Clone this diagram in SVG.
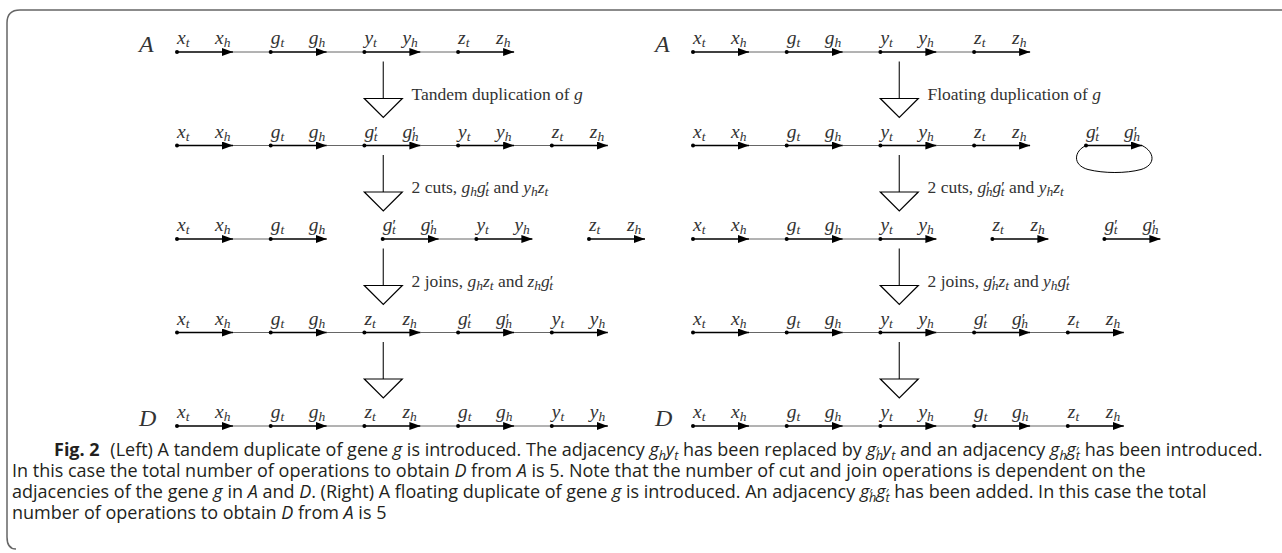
<svg xmlns="http://www.w3.org/2000/svg" width="1282" height="553" viewBox="0 0 1282 553">
<style>
.gl{stroke:#000;stroke-width:1.6;marker-end:url(#ah)}
.adj{stroke:#555;stroke-width:0.9}
.dt{fill:#000}
.m{font-family:"Liberation Serif",serif;font-style:italic;font-size:19.5px;fill:#333}
.s{font-size:13.5px}
.p{font-size:16px;font-style:normal}
.big{font-family:"Liberation Serif",serif;font-style:italic;font-size:24px;fill:#333}
.lab{font-family:"Liberation Serif",serif;font-size:17.5px;fill:#333}
.i{font-style:italic}
.tri{fill:#fff;stroke:#000;stroke-width:1.2}
.vl{stroke:#333;stroke-width:1.3}
.cap{font-family:"Open Sans","Noto Sans",sans-serif;font-size:18px;fill:#231f20}
.cb{font-weight:bold}
.cs{font-size:12.5px}
.frame{fill:none;stroke:#666;stroke-width:1.5}
</style>
<defs>
<marker id="ah" markerUnits="userSpaceOnUse" markerWidth="11" markerHeight="8" refX="11" refY="4" orient="auto"><path d="M0,0 L11,4 L0,8 z" fill="#000"/></marker>
</defs>
<path class="frame" d="M1282,10 H20 Q7,10 7,23 V537 Q7,549 16,549"/>

<g id="labels-AD">
<text class="big" x="139" y="52">A</text>
<text class="big" x="655" y="52">A</text>
<text class="big" x="139" y="426">D</text>
<text class="big" x="655" y="426">D</text>
</g>

<!-- LEFT ROW 1 -->
<g id="L1">
<line class="adj" x1="233" y1="52" x2="270.7" y2="52"/><line class="adj" x1="326.7" y1="52" x2="364.4" y2="52"/><line class="adj" x1="420.4" y1="52" x2="458.1" y2="52"/>
<line class="gl" x1="177" y1="52" x2="233" y2="52"/><line class="gl" x1="270.7" y1="52" x2="326.7" y2="52"/><line class="gl" x1="364.4" y1="52" x2="420.4" y2="52"/><line class="gl" x1="458.1" y1="52" x2="514.1" y2="52"/>
<circle class="dt" cx="177" cy="52" r="2"/><circle class="dt" cx="270.7" cy="52" r="2"/><circle class="dt" cx="364.4" cy="52" r="2"/><circle class="dt" cx="458.1" cy="52" r="2"/>
<text class="m" x="177" y="44">x<tspan class="s" dy="3">t</tspan></text><text class="m" x="215" y="44">x<tspan class="s" dy="3">h</tspan></text>
<text class="m" x="270.7" y="44">g<tspan class="s" dy="3">t</tspan></text><text class="m" x="308.7" y="44">g<tspan class="s" dy="3">h</tspan></text>
<text class="m" x="364.4" y="44">y<tspan class="s" dy="3">t</tspan></text><text class="m" x="402.4" y="44">y<tspan class="s" dy="3">h</tspan></text>
<text class="m" x="458.1" y="44">z<tspan class="s" dy="3">t</tspan></text><text class="m" x="496.1" y="44">z<tspan class="s" dy="3">h</tspan></text>
</g>

<!-- LEFT ROW 2 -->
<g id="L2">
<line class="adj" x1="233" y1="145.5" x2="270.7" y2="145.5"/><line class="adj" x1="326.7" y1="145.5" x2="364.4" y2="145.5"/><line class="adj" x1="420.4" y1="145.5" x2="458.1" y2="145.5"/><line class="adj" x1="514.1" y1="145.5" x2="551.8" y2="145.5"/>
<line class="gl" x1="177" y1="145.5" x2="233" y2="145.5"/><line class="gl" x1="270.7" y1="145.5" x2="326.7" y2="145.5"/><line class="gl" x1="364.4" y1="145.5" x2="420.4" y2="145.5"/><line class="gl" x1="458.1" y1="145.5" x2="514.1" y2="145.5"/><line class="gl" x1="551.8" y1="145.5" x2="607.8" y2="145.5"/>
<circle class="dt" cx="177" cy="145.5" r="2"/><circle class="dt" cx="270.7" cy="145.5" r="2"/><circle class="dt" cx="364.4" cy="145.5" r="2"/><circle class="dt" cx="458.1" cy="145.5" r="2"/><circle class="dt" cx="551.8" cy="145.5" r="2"/>
<text class="m" x="177" y="137.5">x<tspan class="s" dy="3">t</tspan></text><text class="m" x="215" y="137.5">x<tspan class="s" dy="3">h</tspan></text>
<text class="m" x="270.7" y="137.5">g<tspan class="s" dy="3">t</tspan></text><text class="m" x="308.7" y="137.5">g<tspan class="s" dy="3">h</tspan></text>
<text class="m" x="364.4" y="137.5">g<tspan class="p">′</tspan><tspan class="s" dx="-4" dy="3">t</tspan></text><text class="m" x="402.4" y="137.5">g<tspan class="p">′</tspan><tspan class="s" dx="-4" dy="3">h</tspan></text>
<text class="m" x="458.1" y="137.5">y<tspan class="s" dy="3">t</tspan></text><text class="m" x="496.1" y="137.5">y<tspan class="s" dy="3">h</tspan></text>
<text class="m" x="551.8" y="137.5">z<tspan class="s" dy="3">t</tspan></text><text class="m" x="589.8" y="137.5">z<tspan class="s" dy="3">h</tspan></text>
</g>

<!-- LEFT ROW 3 -->
<g id="L3">
<line class="adj" x1="233" y1="239" x2="270.7" y2="239"/><line class="adj" x1="438.7" y1="239" x2="476.4" y2="239"/>
<line class="gl" x1="177" y1="239" x2="233" y2="239"/><line class="gl" x1="270.7" y1="239" x2="326.7" y2="239"/><line class="gl" x1="382.7" y1="239" x2="438.7" y2="239"/><line class="gl" x1="476.4" y1="239" x2="532.4" y2="239"/><line class="gl" x1="589" y1="239" x2="645" y2="239"/>
<circle class="dt" cx="177" cy="239" r="2"/><circle class="dt" cx="270.7" cy="239" r="2"/><circle class="dt" cx="382.7" cy="239" r="2"/><circle class="dt" cx="476.4" cy="239" r="2"/><circle class="dt" cx="589" cy="239" r="2"/>
<text class="m" x="177" y="231">x<tspan class="s" dy="3">t</tspan></text><text class="m" x="215" y="231">x<tspan class="s" dy="3">h</tspan></text>
<text class="m" x="270.7" y="231">g<tspan class="s" dy="3">t</tspan></text><text class="m" x="308.7" y="231">g<tspan class="s" dy="3">h</tspan></text>
<text class="m" x="382.7" y="231">g<tspan class="p">′</tspan><tspan class="s" dx="-4" dy="3">t</tspan></text><text class="m" x="420.7" y="231">g<tspan class="p">′</tspan><tspan class="s" dx="-4" dy="3">h</tspan></text>
<text class="m" x="476.4" y="231">y<tspan class="s" dy="3">t</tspan></text><text class="m" x="514.4" y="231">y<tspan class="s" dy="3">h</tspan></text>
<text class="m" x="589" y="231">z<tspan class="s" dy="3">t</tspan></text><text class="m" x="627" y="231">z<tspan class="s" dy="3">h</tspan></text>
</g>

<!-- LEFT ROW 4 -->
<g id="L4">
<line class="adj" x1="233" y1="332.5" x2="270.7" y2="332.5"/><line class="adj" x1="326.7" y1="332.5" x2="364.4" y2="332.5"/><line class="adj" x1="420.4" y1="332.5" x2="458.1" y2="332.5"/><line class="adj" x1="514.1" y1="332.5" x2="551.8" y2="332.5"/>
<line class="gl" x1="177" y1="332.5" x2="233" y2="332.5"/><line class="gl" x1="270.7" y1="332.5" x2="326.7" y2="332.5"/><line class="gl" x1="364.4" y1="332.5" x2="420.4" y2="332.5"/><line class="gl" x1="458.1" y1="332.5" x2="514.1" y2="332.5"/><line class="gl" x1="551.8" y1="332.5" x2="607.8" y2="332.5"/>
<circle class="dt" cx="177" cy="332.5" r="2"/><circle class="dt" cx="270.7" cy="332.5" r="2"/><circle class="dt" cx="364.4" cy="332.5" r="2"/><circle class="dt" cx="458.1" cy="332.5" r="2"/><circle class="dt" cx="551.8" cy="332.5" r="2"/>
<text class="m" x="177" y="324.5">x<tspan class="s" dy="3">t</tspan></text><text class="m" x="215" y="324.5">x<tspan class="s" dy="3">h</tspan></text>
<text class="m" x="270.7" y="324.5">g<tspan class="s" dy="3">t</tspan></text><text class="m" x="308.7" y="324.5">g<tspan class="s" dy="3">h</tspan></text>
<text class="m" x="364.4" y="324.5">z<tspan class="s" dy="3">t</tspan></text><text class="m" x="402.4" y="324.5">z<tspan class="s" dy="3">h</tspan></text>
<text class="m" x="458.1" y="324.5">g<tspan class="p">′</tspan><tspan class="s" dx="-4" dy="3">t</tspan></text><text class="m" x="496.1" y="324.5">g<tspan class="p">′</tspan><tspan class="s" dx="-4" dy="3">h</tspan></text>
<text class="m" x="551.8" y="324.5">y<tspan class="s" dy="3">t</tspan></text><text class="m" x="589.8" y="324.5">y<tspan class="s" dy="3">h</tspan></text>
</g>

<!-- LEFT ROW 5 (D) -->
<g id="L5">
<line class="adj" x1="233" y1="426" x2="270.7" y2="426"/><line class="adj" x1="326.7" y1="426" x2="364.4" y2="426"/><line class="adj" x1="420.4" y1="426" x2="458.1" y2="426"/><line class="adj" x1="514.1" y1="426" x2="551.8" y2="426"/>
<line class="gl" x1="177" y1="426" x2="233" y2="426"/><line class="gl" x1="270.7" y1="426" x2="326.7" y2="426"/><line class="gl" x1="364.4" y1="426" x2="420.4" y2="426"/><line class="gl" x1="458.1" y1="426" x2="514.1" y2="426"/><line class="gl" x1="551.8" y1="426" x2="607.8" y2="426"/>
<circle class="dt" cx="177" cy="426" r="2"/><circle class="dt" cx="270.7" cy="426" r="2"/><circle class="dt" cx="364.4" cy="426" r="2"/><circle class="dt" cx="458.1" cy="426" r="2"/><circle class="dt" cx="551.8" cy="426" r="2"/>
<text class="m" x="177" y="418">x<tspan class="s" dy="3">t</tspan></text><text class="m" x="215" y="418">x<tspan class="s" dy="3">h</tspan></text>
<text class="m" x="270.7" y="418">g<tspan class="s" dy="3">t</tspan></text><text class="m" x="308.7" y="418">g<tspan class="s" dy="3">h</tspan></text>
<text class="m" x="364.4" y="418">z<tspan class="s" dy="3">t</tspan></text><text class="m" x="402.4" y="418">z<tspan class="s" dy="3">h</tspan></text>
<text class="m" x="458.1" y="418">g<tspan class="s" dy="3">t</tspan></text><text class="m" x="496.1" y="418">g<tspan class="s" dy="3">h</tspan></text>
<text class="m" x="551.8" y="418">y<tspan class="s" dy="3">t</tspan></text><text class="m" x="589.8" y="418">y<tspan class="s" dy="3">h</tspan></text>
</g>

<!-- RIGHT ROW 1 -->
<g id="R1">
<line class="adj" x1="749" y1="52" x2="786.7" y2="52"/><line class="adj" x1="842.7" y1="52" x2="880.4" y2="52"/><line class="adj" x1="936.4" y1="52" x2="974.1" y2="52"/>
<line class="gl" x1="693" y1="52" x2="749" y2="52"/><line class="gl" x1="786.7" y1="52" x2="842.7" y2="52"/><line class="gl" x1="880.4" y1="52" x2="936.4" y2="52"/><line class="gl" x1="974.1" y1="52" x2="1030.1" y2="52"/>
<circle class="dt" cx="693" cy="52" r="2"/><circle class="dt" cx="786.7" cy="52" r="2"/><circle class="dt" cx="880.4" cy="52" r="2"/><circle class="dt" cx="974.1" cy="52" r="2"/>
<text class="m" x="693" y="44">x<tspan class="s" dy="3">t</tspan></text><text class="m" x="731" y="44">x<tspan class="s" dy="3">h</tspan></text>
<text class="m" x="786.7" y="44">g<tspan class="s" dy="3">t</tspan></text><text class="m" x="824.7" y="44">g<tspan class="s" dy="3">h</tspan></text>
<text class="m" x="880.4" y="44">y<tspan class="s" dy="3">t</tspan></text><text class="m" x="918.4" y="44">y<tspan class="s" dy="3">h</tspan></text>
<text class="m" x="974.1" y="44">z<tspan class="s" dy="3">t</tspan></text><text class="m" x="1012.1" y="44">z<tspan class="s" dy="3">h</tspan></text>
</g>

<!-- RIGHT ROW 2 -->
<g id="R2">
<line class="adj" x1="749" y1="145.5" x2="786.7" y2="145.5"/><line class="adj" x1="842.7" y1="145.5" x2="880.4" y2="145.5"/><line class="adj" x1="936.4" y1="145.5" x2="974.1" y2="145.5"/>
<path d="M1086,145.5 C1074,151 1072,165 1088,169.5 C1104,173.5 1126,173.5 1141,169.5 C1156,165 1155,152 1142,145.5" fill="none" stroke="#000" stroke-width="1"/>
<line class="gl" x1="693" y1="145.5" x2="749" y2="145.5"/><line class="gl" x1="786.7" y1="145.5" x2="842.7" y2="145.5"/><line class="gl" x1="880.4" y1="145.5" x2="936.4" y2="145.5"/><line class="gl" x1="974.1" y1="145.5" x2="1030.1" y2="145.5"/><line class="gl" x1="1086" y1="145.5" x2="1142" y2="145.5"/>
<circle class="dt" cx="693" cy="145.5" r="2"/><circle class="dt" cx="786.7" cy="145.5" r="2"/><circle class="dt" cx="880.4" cy="145.5" r="2"/><circle class="dt" cx="974.1" cy="145.5" r="2"/><circle class="dt" cx="1086" cy="145.5" r="2"/>
<text class="m" x="693" y="137.5">x<tspan class="s" dy="3">t</tspan></text><text class="m" x="731" y="137.5">x<tspan class="s" dy="3">h</tspan></text>
<text class="m" x="786.7" y="137.5">g<tspan class="s" dy="3">t</tspan></text><text class="m" x="824.7" y="137.5">g<tspan class="s" dy="3">h</tspan></text>
<text class="m" x="880.4" y="137.5">y<tspan class="s" dy="3">t</tspan></text><text class="m" x="918.4" y="137.5">y<tspan class="s" dy="3">h</tspan></text>
<text class="m" x="974.1" y="137.5">z<tspan class="s" dy="3">t</tspan></text><text class="m" x="1012.1" y="137.5">z<tspan class="s" dy="3">h</tspan></text>
<text class="m" x="1086" y="137.5">g<tspan class="p">′</tspan><tspan class="s" dx="-4" dy="3">t</tspan></text><text class="m" x="1124" y="137.5">g<tspan class="p">′</tspan><tspan class="s" dx="-4" dy="3">h</tspan></text>
</g>

<!-- RIGHT ROW 3 -->
<g id="R3">
<line class="adj" x1="749" y1="239" x2="786.7" y2="239"/><line class="adj" x1="842.7" y1="239" x2="880.4" y2="239"/>
<line class="gl" x1="693" y1="239" x2="749" y2="239"/><line class="gl" x1="786.7" y1="239" x2="842.7" y2="239"/><line class="gl" x1="880.4" y1="239" x2="936.4" y2="239"/><line class="gl" x1="992.4" y1="239" x2="1048.4" y2="239"/><line class="gl" x1="1104.4" y1="239" x2="1160.4" y2="239"/>
<circle class="dt" cx="693" cy="239" r="2"/><circle class="dt" cx="786.7" cy="239" r="2"/><circle class="dt" cx="880.4" cy="239" r="2"/><circle class="dt" cx="992.4" cy="239" r="2"/><circle class="dt" cx="1104.4" cy="239" r="2"/>
<text class="m" x="693" y="231">x<tspan class="s" dy="3">t</tspan></text><text class="m" x="731" y="231">x<tspan class="s" dy="3">h</tspan></text>
<text class="m" x="786.7" y="231">g<tspan class="s" dy="3">t</tspan></text><text class="m" x="824.7" y="231">g<tspan class="s" dy="3">h</tspan></text>
<text class="m" x="880.4" y="231">y<tspan class="s" dy="3">t</tspan></text><text class="m" x="918.4" y="231">y<tspan class="s" dy="3">h</tspan></text>
<text class="m" x="992.4" y="231">z<tspan class="s" dy="3">t</tspan></text><text class="m" x="1030.4" y="231">z<tspan class="s" dy="3">h</tspan></text>
<text class="m" x="1104.4" y="231">g<tspan class="p">′</tspan><tspan class="s" dx="-4" dy="3">t</tspan></text><text class="m" x="1142.4" y="231">g<tspan class="p">′</tspan><tspan class="s" dx="-4" dy="3">h</tspan></text>
</g>

<!-- RIGHT ROW 4 -->
<g id="R4">
<line class="adj" x1="749" y1="332.5" x2="786.7" y2="332.5"/><line class="adj" x1="842.7" y1="332.5" x2="880.4" y2="332.5"/><line class="adj" x1="936.4" y1="332.5" x2="974.1" y2="332.5"/><line class="adj" x1="1030.1" y1="332.5" x2="1067.8" y2="332.5"/>
<line class="gl" x1="693" y1="332.5" x2="749" y2="332.5"/><line class="gl" x1="786.7" y1="332.5" x2="842.7" y2="332.5"/><line class="gl" x1="880.4" y1="332.5" x2="936.4" y2="332.5"/><line class="gl" x1="974.1" y1="332.5" x2="1030.1" y2="332.5"/><line class="gl" x1="1067.8" y1="332.5" x2="1123.8" y2="332.5"/>
<circle class="dt" cx="693" cy="332.5" r="2"/><circle class="dt" cx="786.7" cy="332.5" r="2"/><circle class="dt" cx="880.4" cy="332.5" r="2"/><circle class="dt" cx="974.1" cy="332.5" r="2"/><circle class="dt" cx="1067.8" cy="332.5" r="2"/>
<text class="m" x="693" y="324.5">x<tspan class="s" dy="3">t</tspan></text><text class="m" x="731" y="324.5">x<tspan class="s" dy="3">h</tspan></text>
<text class="m" x="786.7" y="324.5">g<tspan class="s" dy="3">t</tspan></text><text class="m" x="824.7" y="324.5">g<tspan class="s" dy="3">h</tspan></text>
<text class="m" x="880.4" y="324.5">y<tspan class="s" dy="3">t</tspan></text><text class="m" x="918.4" y="324.5">y<tspan class="s" dy="3">h</tspan></text>
<text class="m" x="974.1" y="324.5">g<tspan class="p">′</tspan><tspan class="s" dx="-4" dy="3">t</tspan></text><text class="m" x="1012.1" y="324.5">g<tspan class="p">′</tspan><tspan class="s" dx="-4" dy="3">h</tspan></text>
<text class="m" x="1067.8" y="324.5">z<tspan class="s" dy="3">t</tspan></text><text class="m" x="1105.8" y="324.5">z<tspan class="s" dy="3">h</tspan></text>
</g>

<!-- RIGHT ROW 5 (D) -->
<g id="R5">
<line class="adj" x1="749" y1="426" x2="786.7" y2="426"/><line class="adj" x1="842.7" y1="426" x2="880.4" y2="426"/><line class="adj" x1="936.4" y1="426" x2="974.1" y2="426"/><line class="adj" x1="1030.1" y1="426" x2="1067.8" y2="426"/>
<line class="gl" x1="693" y1="426" x2="749" y2="426"/><line class="gl" x1="786.7" y1="426" x2="842.7" y2="426"/><line class="gl" x1="880.4" y1="426" x2="936.4" y2="426"/><line class="gl" x1="974.1" y1="426" x2="1030.1" y2="426"/><line class="gl" x1="1067.8" y1="426" x2="1123.8" y2="426"/>
<circle class="dt" cx="693" cy="426" r="2"/><circle class="dt" cx="786.7" cy="426" r="2"/><circle class="dt" cx="880.4" cy="426" r="2"/><circle class="dt" cx="974.1" cy="426" r="2"/><circle class="dt" cx="1067.8" cy="426" r="2"/>
<text class="m" x="693" y="418">x<tspan class="s" dy="3">t</tspan></text><text class="m" x="731" y="418">x<tspan class="s" dy="3">h</tspan></text>
<text class="m" x="786.7" y="418">g<tspan class="s" dy="3">t</tspan></text><text class="m" x="824.7" y="418">g<tspan class="s" dy="3">h</tspan></text>
<text class="m" x="880.4" y="418">y<tspan class="s" dy="3">t</tspan></text><text class="m" x="918.4" y="418">y<tspan class="s" dy="3">h</tspan></text>
<text class="m" x="974.1" y="418">g<tspan class="s" dy="3">t</tspan></text><text class="m" x="1012.1" y="418">g<tspan class="s" dy="3">h</tspan></text>
<text class="m" x="1067.8" y="418">z<tspan class="s" dy="3">t</tspan></text><text class="m" x="1105.8" y="418">z<tspan class="s" dy="3">h</tspan></text>
</g>

<!-- CONNECTORS -->
<g id="connectors">
<line class="vl" x1="383.3" y1="61.5" x2="383.3" y2="98.5"/><polygon class="tri" points="364.3,98.5 402.3,98.5 383.3,117.5"/>
<line class="vl" x1="383.3" y1="155" x2="383.3" y2="192"/><polygon class="tri" points="364.3,192 402.3,192 383.3,211"/>
<line class="vl" x1="383.3" y1="248.5" x2="383.3" y2="285.5"/><polygon class="tri" points="364.3,285.5 402.3,285.5 383.3,304.5"/>
<line class="vl" x1="383.3" y1="342" x2="383.3" y2="379"/><polygon class="tri" points="364.3,379 402.3,379 383.3,398"/>
<line class="vl" x1="899.3" y1="61.5" x2="899.3" y2="98.5"/><polygon class="tri" points="880.3,98.5 918.3,98.5 899.3,117.5"/>
<line class="vl" x1="899.3" y1="155" x2="899.3" y2="192"/><polygon class="tri" points="880.3,192 918.3,192 899.3,211"/>
<line class="vl" x1="899.3" y1="248.5" x2="899.3" y2="285.5"/><polygon class="tri" points="880.3,285.5 918.3,285.5 899.3,304.5"/>
<line class="vl" x1="899.3" y1="342" x2="899.3" y2="379"/><polygon class="tri" points="880.3,379 918.3,379 899.3,398"/>
<text class="lab" x="411.5" y="99.5">Tandem duplication of <tspan class="i">g</tspan></text>
<text class="lab" x="411.5" y="193">2 cuts, <tspan class="i">g</tspan><tspan class="i s" dy="3">h</tspan><tspan class="i" dy="-3">g</tspan><tspan class="p">′</tspan><tspan class="i s" dx="-4" dy="3">t</tspan><tspan dy="-3"> and </tspan><tspan class="i">y</tspan><tspan class="i s" dy="3">h</tspan><tspan class="i" dy="-3">z</tspan><tspan class="i s" dy="3">t</tspan></text>
<text class="lab" x="411.5" y="286.5">2 joins, <tspan class="i">g</tspan><tspan class="i s" dy="3">h</tspan><tspan class="i" dy="-3">z</tspan><tspan class="i s" dy="3">t</tspan><tspan dy="-3"> and </tspan><tspan class="i">z</tspan><tspan class="i s" dy="3">h</tspan><tspan class="i" dy="-3">g</tspan><tspan class="p">′</tspan><tspan class="i s" dx="-4" dy="3">t</tspan></text>
<text class="lab" x="927.5" y="99.5">Floating duplication of <tspan class="i">g</tspan></text>
<text class="lab" x="927.5" y="193">2 cuts, <tspan class="i">g</tspan><tspan class="p">′</tspan><tspan class="i s" dx="-4" dy="3">h</tspan><tspan class="i" dy="-3">g</tspan><tspan class="p">′</tspan><tspan class="i s" dx="-4" dy="3">t</tspan><tspan dy="-3"> and </tspan><tspan class="i">y</tspan><tspan class="i s" dy="3">h</tspan><tspan class="i" dy="-3">z</tspan><tspan class="i s" dy="3">t</tspan></text>
<text class="lab" x="927.5" y="286.5">2 joins, <tspan class="i">g</tspan><tspan class="p">′</tspan><tspan class="i s" dx="-4" dy="3">h</tspan><tspan class="i" dy="-3">z</tspan><tspan class="i s" dy="3">t</tspan><tspan dy="-3"> and </tspan><tspan class="i">y</tspan><tspan class="i s" dy="3">h</tspan><tspan class="i" dy="-3">g</tspan><tspan class="p">′</tspan><tspan class="i s" dx="-4" dy="3">t</tspan></text>
</g>

<!-- CAPTION -->
<g id="caption">
<text class="cap" x="54" y="456"><tspan class="cb">Fig. 2</tspan><tspan dx="6"> (Left) A tandem duplicate of gene </tspan><tspan class="i">g</tspan> is introduced. The adjacency <tspan class="i">g</tspan><tspan class="i cs" dy="4">h</tspan><tspan class="i" dy="-4">y</tspan><tspan class="i cs" dy="4">t</tspan><tspan dy="-4"> has been replaced by </tspan><tspan class="i">g</tspan><tspan class="cs">′</tspan><tspan class="i cs" dx="-3" dy="4">h</tspan><tspan class="i" dy="-4">y</tspan><tspan class="i cs" dy="4">t</tspan><tspan dy="-4"> and an adjacency </tspan><tspan class="i">g</tspan><tspan class="i cs" dy="4">h</tspan><tspan class="i" dy="-4">g</tspan><tspan class="cs">′</tspan><tspan class="i cs" dx="-3" dy="4">t</tspan><tspan dy="-4"> has been introduced.</tspan></text>
<text class="cap" x="12" y="477">In this case the total number of operations to obtain <tspan class="i">D</tspan> from <tspan class="i">A</tspan> is 5. Note that the number of cut and join operations is dependent on the</text>
<text class="cap" x="12" y="498">adjacencies of the gene <tspan class="i">g</tspan> in <tspan class="i">A</tspan> and <tspan class="i">D</tspan>. (Right) A floating duplicate of gene <tspan class="i">g</tspan> is introduced. An adjacency <tspan class="i">g</tspan><tspan class="cs">′</tspan><tspan class="i cs" dx="-3" dy="4">h</tspan><tspan class="i" dy="-4">g</tspan><tspan class="cs">′</tspan><tspan class="i cs" dx="-3" dy="4">t</tspan><tspan dy="-4"> has been added. In this case the total</tspan></text>
<text class="cap" x="12" y="519">number of operations to obtain <tspan class="i">D</tspan> from <tspan class="i">A</tspan> is 5</text>
</g>
</svg>
